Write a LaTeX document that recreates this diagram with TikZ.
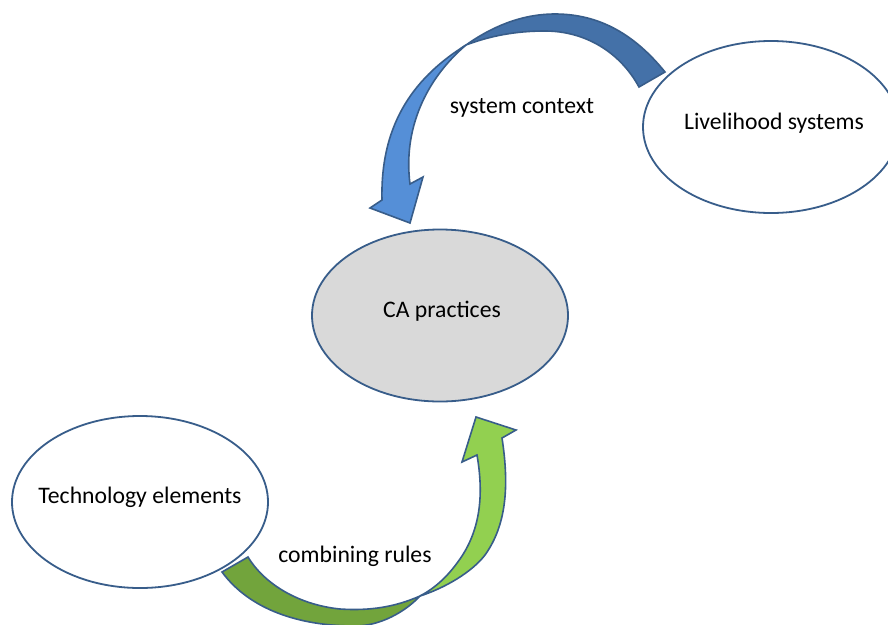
\documentclass[tikz,border=0pt]{standalone}
\usepackage{fontspec}
\setmainfont{Carlito}
\usetikzlibrary{shapes.geometric}
\definecolor{edge}{HTML}{385D8A}
\definecolor{bluedark}{HTML}{4471A8}
\definecolor{bluelight}{HTML}{558FD7}
\definecolor{greendark}{HTML}{72A43C}
\definecolor{greenlight}{HTML}{92D050}
\definecolor{cagray}{HTML}{D9D9D9}
\tikzset{
  ell/.style={ellipse, draw=edge, line width=1.8pt, minimum width=256, minimum height=172,
    inner sep=0pt},
  band/.style={draw=edge, line width=1.6pt, line join=miter},
  lbl/.style={anchor=base, inner sep=0pt},
}
\begin{document}
\begin{tikzpicture}[x=1pt, y=-1pt, font=\fontsize{23.7}{28}\selectfont]
\useasboundingbox (0,0) rectangle (888,624);
\fill[white] (0,0) rectangle (888,624);

% ellipses
\node[ell, fill=white] (live) at (771,127) {};
\node[ell, fill=cagray] (ca) at (440,315.5) {};
\node[ell, fill=white] (tech) at (140,502) {};
\node[lbl] (livet) at (774,129) {Livelihood systems};
\node[lbl] (cat) at (442,317) {CA practices};
\node[lbl] (techt) at (140,503) {Technology elements};

% blue curved arrow (system context)
\filldraw[band, fill=bluelight] (466,45) .. controls (418,75) and (380,120) .. (382,200)
  -- (370,208) -- (410,223) -- (423,177) -- (410,184)
  .. controls (403,130) and (425,80) .. (466,45) -- cycle;
\filldraw[band, fill=bluedark] (665,72) .. controls (635,35) and (600,14) .. (555,14)
  .. controls (520,14) and (490,28) .. (466,45)
  .. controls (490,36) and (515,31) .. (545,31)
  .. controls (585,31) and (620,52) .. (639,87) -- cycle;

% green curved arrow (combining rules)
\filldraw[band, fill=greendark] (222,572) .. controls (250,610) and (300,626) .. (355,626)
  .. controls (380,626) and (405,612) .. (420,596)
  .. controls (395,607) and (370,611) .. (340,609)
  .. controls (300,605) and (265,585) .. (248,557) -- cycle;
\filldraw[band, fill=greenlight] (420,596) .. controls (445,588) and (472,572) .. (485,555)
  .. controls (505,527) and (510,490) .. (502,438)
  -- (516,430) -- (476,417) -- (462,462) -- (477,455)
  .. controls (483,490) and (482,525) .. (462,556)
  .. controls (450,574) and (437,587) .. (420,596) -- cycle;

% labels
\node[lbl] (sc) at (522,113) {system context};
\node[lbl] (cr) at (355,562) {combining rules};
\end{tikzpicture}
\end{document}
